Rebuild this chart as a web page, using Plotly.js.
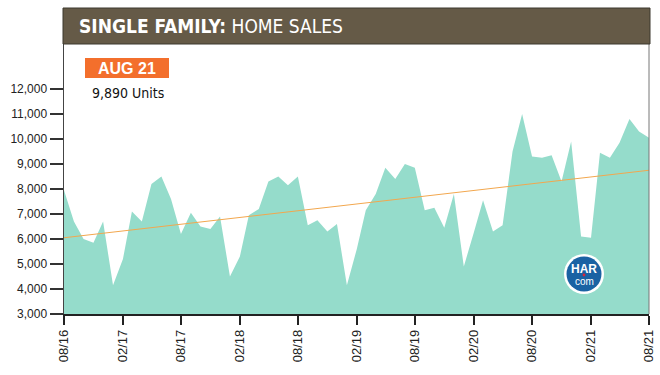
<!DOCTYPE html>
<html>
<head>
<meta charset="utf-8">
<script src="https://cdn.plot.ly/plotly-3.0.1.min.js"></script>
<style>html,body{margin:0;padding:0;background:#fff;}#chart{width:660px;height:375px;}</style>
</head>
<body>
<div id="chart"></div>
<script>
// Monthly single family home sales, 08/2016 - 08/2021
const months = [
  "2016-08","2016-09","2016-10","2016-11","2016-12",
  "2017-01","2017-02","2017-03","2017-04","2017-05","2017-06","2017-07","2017-08","2017-09","2017-10","2017-11","2017-12",
  "2018-01","2018-02","2018-03","2018-04","2018-05","2018-06","2018-07","2018-08","2018-09","2018-10","2018-11","2018-12",
  "2019-01","2019-02","2019-03","2019-04","2019-05","2019-06","2019-07","2019-08","2019-09","2019-10","2019-11","2019-12",
  "2020-01","2020-02","2020-03","2020-04","2020-05","2020-06","2020-07","2020-08","2020-09","2020-10","2020-11","2020-12",
  "2021-01","2021-02","2021-03","2021-04","2021-05","2021-06","2021-07","2021-08"
];
const sales = [
  7950, 6700, 6000, 5850, 6700,
  4150, 5200, 7100, 6700, 8200, 8500, 7600, 6200, 7050, 6500, 6400, 6900,
  4500, 5300, 6950, 7200, 8300, 8500, 8150, 8500, 6550, 6750, 6300, 6600,
  4150, 5600, 7150, 7800, 8850, 8400, 9000, 8850, 7150, 7250, 6450, 7800,
  4900, 6250, 7550, 6300, 6550, 9500, 11000, 9300, 9250, 9350, 8300, 9900,
  6100, 6050, 9450, 9250, 9850, 10800, 10300, 10050
];
const trendMonths = ["2016-08", "2021-08"];
const trendValues = [6050, 8750];
const yTicks = [3000,4000,5000,6000,7000,8000,9000,10000,11000,12000];
const titleBold = "SINGLE FAMILY:";
const titleRest = "HOME SALES";
const badgeText = "AUG 21";
const badgeValue = "9,890 Units";

// plot area in pixels: x 64..649, y 44..314
const L = 64, R = 649, T = 44, B = 314;
const px = x => (x - L) / (R - L);
const py = y => (B - y) / (B - T);
const condensed = "'Liberation Sans Narrow', 'DejaVu Sans Condensed', Arial, sans-serif";
const sans = "Arial, 'Liberation Sans', sans-serif";

const traces = [
  {
    x: months, y: sales, type: "scatter", mode: "lines",
    fill: "tozeroy", fillcolor: "#95dccb",
    line: {width: 0, color: "#95dccb"}, hoverinfo: "x+y", showlegend: false
  },
  {
    x: trendMonths, y: trendValues, type: "scatter", mode: "lines",
    line: {width: 1, color: "#f2a74e"}, hoverinfo: "skip", showlegend: false
  }
];

const layout = {
  width: 660, height: 375,
  margin: {l: L, r: 660 - R, t: T, b: 375 - B, pad: 0},
  paper_bgcolor: "#ffffff", plot_bgcolor: "#ffffff",
  font: {family: sans, size: 12, color: "#222"},
  xaxis: {
    type: "date", range: ["2016-08-01", "2021-08-01"],
    tickmode: "array",
    tickvals: months.filter((m, i) => i % 6 === 0),
    ticktext: months.filter((m, i) => i % 6 === 0).map(m => m.slice(5) + "/" + m.slice(2, 4)),
    tickangle: -90, ticks: "outside", ticklen: 9, tickwidth: 1.5, tickcolor: "#222",
    showline: true, linecolor: "#222", linewidth: 1.5,
    showgrid: false, zeroline: false, fixedrange: true,
    tickfont: {family: sans, size: 13, color: "#222"}
  },
  yaxis: {
    range: [3000, 13800],
    tickmode: "array", tickvals: yTicks,
    ticktext: yTicks.map(v => v.toLocaleString("en-US")),
    ticks: "outside", ticklen: 13, tickwidth: 1.5, tickcolor: "#333",
    showline: true, linecolor: "#444", linewidth: 1.5,
    showgrid: false, zeroline: false, fixedrange: true,
    tickfont: {family: sans, size: 12, color: "#222"}
  },
  shapes: [
    {type: "line", xref: "paper", yref: "paper", x0: 1, x1: 1, y0: 0, y1: 1,
     line: {color: "#777", width: 1}},
    {type: "rect", xref: "paper", yref: "paper", x0: px(63), x1: px(650), y0: py(44), y1: py(8),
     fillcolor: "#655a47", line: {color: "#3d382e", width: 1}},
    {type: "rect", xref: "paper", yref: "paper", x0: px(85), x1: px(169), y0: py(78), y1: py(58),
     fillcolor: "#f36f2c", line: {width: 0}},
    {type: "circle", xref: "paper", yref: "paper", x0: px(564), x1: px(604), y0: py(294), y1: py(254),
     fillcolor: "#ffffff", line: {width: 0}},
    {type: "circle", xref: "paper", yref: "paper", x0: px(566.5), x1: px(601.5), y0: py(291.5), y1: py(256.5),
     fillcolor: "#1a62a3", line: {width: 0}},
    {type: "circle", xref: "paper", yref: "paper", x0: px(582.6), x1: px(585.4), y0: py(276.4), y1: py(273.6),
     fillcolor: "#d9263a", line: {width: 0}}
  ],
  annotations: [
    {xref: "paper", yref: "paper", x: px(77), y: py(26), xanchor: "left", yanchor: "middle",
     text: "<b>" + titleBold + "</b> " + titleRest, showarrow: false,
     font: {family: condensed, size: 19, color: "#ffffff"}},
    {xref: "paper", yref: "paper", x: px(127), y: py(68.5), xanchor: "center", yanchor: "middle",
     text: "<b>" + badgeText + "</b>", showarrow: false,
     font: {family: sans, size: 16, color: "#ffffff"}},
    {xref: "paper", yref: "paper", x: px(128), y: py(93), xanchor: "center", yanchor: "middle",
     text: badgeValue, showarrow: false,
     font: {family: condensed, size: 14, color: "#111"}},
    {xref: "paper", yref: "paper", x: px(584), y: py(268.5), xanchor: "center", yanchor: "middle",
     text: "<b>HAR</b>", showarrow: false,
     font: {family: sans, size: 12, color: "#ffffff"}},
    {xref: "paper", yref: "paper", x: px(584), y: py(281), xanchor: "center", yanchor: "middle",
     text: "com", showarrow: false,
     font: {family: sans, size: 10, color: "#ffffff"}}
  ]
};

Plotly.newPlot("chart", traces, layout, {displayModeBar: false, staticPlot: true});
</script>
</body>
</html>
